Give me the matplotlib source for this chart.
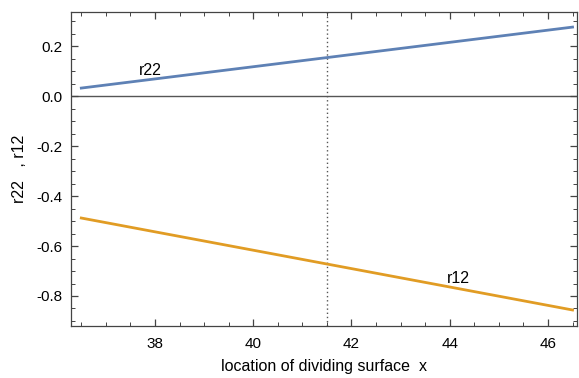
import numpy as np
import matplotlib.pyplot as plt
from matplotlib.ticker import MultipleLocator

# dividing surface position and the two coefficients (linear in x)
x_vals = [36.5, 46.5]
r22_vals = [0.032, 0.276]
r12_vals = [-0.488, -0.856]
x_mark = 41.5

plt.rcParams["font.family"] = ["Liberation Sans", "DejaVu Sans"]
plt.rcParams["font.size"] = 11

fig = plt.figure(figsize=(5.79, 3.78), dpi=100)
ax = fig.add_axes([0.1226, 0.1376, 0.8739, 0.8304])

ax.axhline(0, color="#555555", linewidth=1.0, zorder=1)
ax.axvline(x_mark, color="#555555", linewidth=1.0, linestyle=(0, (1, 2)), zorder=1)
ax.plot(x_vals, r22_vals, color="#5E81B5", linewidth=2.0, zorder=2)
ax.plot(x_vals, r12_vals, color="#E19C24", linewidth=2.0, zorder=2)

ax.text(37.9, 0.104, "r22", ha="center", va="center", fontsize=11.5)
ax.text(44.17, -0.73, "r12", ha="center", va="center", fontsize=11.5)

ax.set_xlim(36.29, 46.59)
ax.set_ylim(-0.92, 0.336)
ax.xaxis.set_major_locator(MultipleLocator(2))
ax.xaxis.set_minor_locator(MultipleLocator(0.5))
ax.yaxis.set_major_locator(MultipleLocator(0.2))
ax.yaxis.set_minor_locator(MultipleLocator(0.05))
ax.yaxis.set_major_formatter(plt.FuncFormatter(lambda v, p: "%.1f" % v))

for s in ax.spines.values():
    s.set_color("#444444")
    s.set_linewidth(0.9)
ax.tick_params(which="both", direction="in", top=True, right=True,
               color="#444444", labelcolor="black")
ax.tick_params(which="major", length=5, width=0.9)
ax.tick_params(which="minor", length=3, width=0.7)
ax.tick_params(axis="x", pad=8)
ax.tick_params(axis="y", pad=6)

ax.set_xlabel("location of dividing surface  x", fontsize=11.5, labelpad=6)
ax.set_ylabel("r22   , r12", fontsize=11.5, labelpad=7)

plt.savefig("out.png", dpi=100)
